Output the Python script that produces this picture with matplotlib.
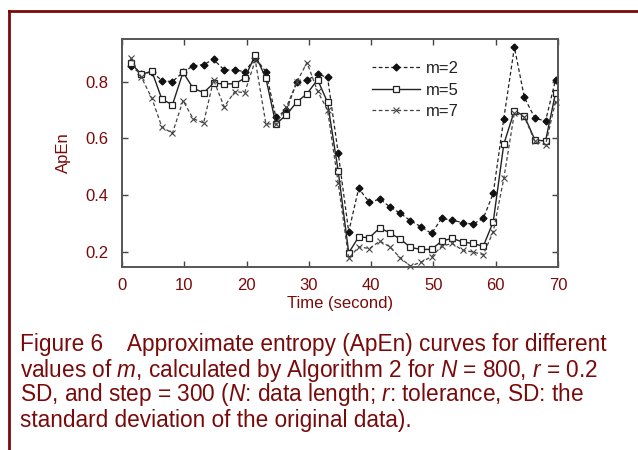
import matplotlib
matplotlib.use("Agg")
import matplotlib.pyplot as plt
from matplotlib.lines import Line2D

plt.rcParams['font.family'] = ['Liberation Sans', 'DejaVu Sans']
plt.rcParams['mathtext.fontset'] = 'custom'
plt.rcParams['mathtext.rm'] = 'Liberation Sans'
plt.rcParams['mathtext.it'] = 'Liberation Sans:italic'

time_s = [1.4, 3.1, 4.8, 6.4, 8.1, 9.8, 11.4, 13.1, 14.7, 16.4, 18.1, 19.7, 21.4, 23.1,
          24.7, 26.4, 28.1, 29.7, 31.4, 33.0, 34.7, 36.4, 38.0, 39.7, 41.4, 43.0, 44.7, 46.3,
          48.0, 49.7, 51.3, 53.0, 54.7, 56.3, 58.0, 59.6, 61.3, 63.0, 64.6, 66.3, 68.0, 69.6]

apen_m2 = [0.855, 0.826, 0.835, 0.803, 0.800, 0.833, 0.855, 0.860, 0.878, 0.841, 0.841, 0.835,
           0.883, 0.835, 0.675, 0.700, 0.800, 0.805, 0.826, 0.815, 0.550, 0.271, 0.424, 0.375,
           0.386, 0.359, 0.336, 0.310, 0.289, 0.265, 0.318, 0.312, 0.303, 0.298, 0.318, 0.406,
           0.670, 0.921, 0.744, 0.671, 0.661, 0.806]
apen_m5 = [0.865, 0.826, 0.836, 0.738, 0.718, 0.833, 0.777, 0.761, 0.794, 0.792, 0.792, 0.812,
           0.894, 0.812, 0.650, 0.683, 0.729, 0.757, 0.807, 0.727, 0.486, 0.197, 0.253, 0.250,
           0.285, 0.267, 0.245, 0.216, 0.209, 0.209, 0.238, 0.248, 0.235, 0.230, 0.220, 0.306,
           0.580, 0.697, 0.679, 0.594, 0.591, 0.759]
apen_m7 = [0.883, 0.816, 0.741, 0.640, 0.618, 0.733, 0.670, 0.654, 0.806, 0.711, 0.765, 0.761,
           0.875, 0.651, 0.651, 0.710, 0.800, 0.867, 0.766, 0.700, 0.444, 0.177, 0.218, 0.212,
           0.238, 0.218, 0.179, 0.150, 0.164, 0.183, 0.220, 0.230, 0.206, 0.200, 0.191, 0.271,
           0.459, 0.690, 0.675, 0.590, 0.577, 0.729]

labels = ['m=2', 'm=5', 'm=7']
x_ticks = [0, 10, 20, 30, 40, 50, 60, 70]
y_ticks = [0.2, 0.4, 0.6, 0.8]

red = '#7a0a0a'
W, H = 638, 450
fig = plt.figure(figsize=(W / 100, H / 100), dpi=100)

# frame lines
fig.add_artist(Line2D([9 / W, 9 / W], [0, 1 - 11 / H], transform=fig.transFigure,
                      color=red, lw=2))
fig.add_artist(Line2D([9 / W, 1], [1 - 11 / H, 1 - 11 / H], transform=fig.transFigure,
                      color=red, lw=2))

ax = fig.add_axes([122 / W, 1 - 267 / H, (558 - 122) / W, (267 - 39) / H])

ax.plot(time_s, apen_m2, color='#222222', lw=0.9, dashes=(3, 2), marker='D',
        markersize=3.5, markerfacecolor='#111111', markeredgecolor='#111111', label=labels[0])
ax.plot(time_s, apen_m5, color='#222222', lw=1.0, linestyle='-', marker='s',
        markersize=5, markerfacecolor='white', markeredgecolor='#222222',
        markeredgewidth=0.9, label=labels[1])
ax.plot(time_s, apen_m7, color='#444444', lw=0.9, dashes=(3, 2), marker='x',
        markersize=5, markeredgewidth=0.8, label=labels[2], clip_on=False)

ax.set_xlim(0, 70)
ax.set_ylim(0.147, 0.95)
ax.set_xticks(x_ticks)
ax.set_yticks(y_ticks)
ax.set_xticklabels([str(v) for v in x_ticks])
ax.set_yticklabels(['%.1f' % v for v in y_ticks])

for s in ax.spines.values():
    s.set_color('#555555')
    s.set_linewidth(1.4)
ax.tick_params(direction='in', top=True, right=True, length=4, width=1.0,
               color='#444444', labelsize=12, labelcolor=red)
ax.tick_params(axis='x', pad=8)
ax.tick_params(axis='y', pad=10)

ax.set_xlabel('Time (second)', fontsize=12, color=red, labelpad=2)
ax.set_ylabel('ApEn', fontsize=12, color=red, labelpad=10)

leg = ax.legend(loc='upper left', bbox_to_anchor=(372 / W, 1 - 61 / H),
                bbox_transform=fig.transFigure, frameon=False, fontsize=12,
                handlelength=2.9, handletextpad=0.35, labelspacing=0.4,
                borderpad=0, borderaxespad=0)
for t in leg.get_texts():
    t.set_color('#222222')

caption = [
    'Figure 6    Approximate entropy (ApEn) curves for different',
    'values of $m$, calculated by Algorithm 2 for $N$ = 800, $r$ = 0.2',
    'SD, and step = 300 ($N$: data length; $r$: tolerance, SD: the',
    'standard deviation of the original data).',
]
for i, line in enumerate(caption):
    fig.text(20 / W, 1 - (345 + 25 * i) / H, line, fontsize=16.3, color=red,
             ha='left', va='center')

fig.savefig('out.png', dpi=100)
